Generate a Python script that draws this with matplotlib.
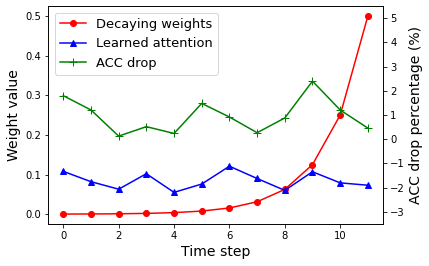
import numpy as np
import matplotlib
matplotlib.use("Agg")
import matplotlib.pyplot as plt

steps = list(range(12))
decaying = [0.000244, 0.000488, 0.000977, 0.00195, 0.0039, 0.0078, 0.0156, 0.03125, 0.0625, 0.125, 0.25, 0.5]
attention = [0.108, 0.082, 0.063, 0.102, 0.055, 0.076, 0.121, 0.090, 0.060, 0.107, 0.079, 0.073]
acc_drop = [1.8, 1.21, 0.13, 0.52, 0.24, 1.48, 0.92, 0.27, 0.88, 2.4, 1.21, 0.46]

fig = plt.figure(figsize=(429/72, 266/72), dpi=72)
ax1 = fig.add_axes([0.112, 0.158, 0.781, 0.819])
l1, = ax1.plot(steps, decaying, color="red", marker="o", label="Decaying weights")
l2, = ax1.plot(steps, attention, color="blue", marker="^", label="Learned attention")
ax1.set_xlabel("Time step", fontsize=14)
ax1.set_ylabel("Weight value", fontsize=14)

ax2 = ax1.twinx()
l3, = ax2.plot(steps, acc_drop, color="green", marker="+", markersize=8, label="ACC drop")
ax2.set_ylim(-3.5, 5.5)
ax2.set_yticks(range(-3, 6))
ax2.set_ylabel("ACC drop percentage (%)", fontsize=14)

ax2.legend(handles=[l1, l2, l3], loc="upper left", fontsize=13)

fig.savefig("out.png", dpi=72)
